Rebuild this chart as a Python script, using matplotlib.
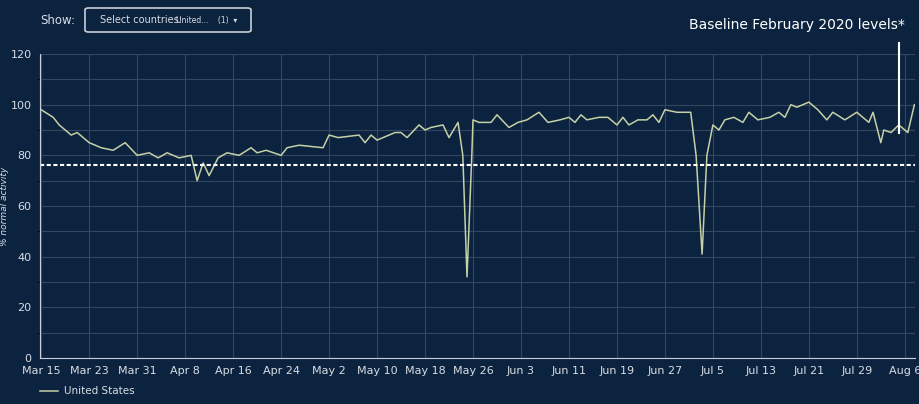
import matplotlib.pyplot as plt
from matplotlib.patches import FancyBboxPatch
import pandas as pd

start = pd.Timestamp("2020-03-15")
day_offsets = [0, 2, 3, 5, 6, 8, 10, 12, 14, 16, 18, 19.5, 21, 23, 25, 26, 27, 28, 29.5,
               31, 33, 35, 36, 37.5, 40, 41, 43, 47, 48, 49.5, 53, 54, 55, 56, 59, 60,
               61, 63, 64, 65, 67, 68, 69.5, 70.3, 71, 71.8, 72, 73, 75, 76, 78, 79.5,
               81, 83, 84.5, 86.5, 88, 89, 90, 91, 93, 94.5, 96, 97, 98, 99.5, 101, 102,
               103, 104, 106, 108.3, 109.2, 110.2, 111, 112, 113, 114, 115.5, 117, 118,
               119.5, 121.5, 123, 124, 125, 126, 128, 129.5, 131, 132, 134, 136, 138,
               138.7, 140, 140.5, 141.7, 143, 144.5, 145.6]
activity = [98, 95, 92, 88, 89, 85, 83, 82, 85, 80, 81, 79, 81, 79, 80, 70, 77, 72, 79,
            81, 80, 83, 81, 82, 80, 83, 84, 83, 88, 87, 88, 85, 88, 86, 89, 89,
            87, 92, 90, 91, 92, 87, 93, 80, 32, 80, 94, 93, 93, 96, 91, 93,
            94, 97, 93, 94, 95, 93, 96, 94, 95, 95, 92, 95, 92, 94, 94, 96,
            93, 98, 97, 97, 80, 41, 80, 92, 90, 94, 95, 93, 97,
            94, 95, 97, 95, 100, 99, 101, 98, 94, 97, 94, 97, 93,
            97, 85, 90, 89, 92, 89, 100]
baseline = 76.3
tick_labels = ["Mar 15", "Mar 23", "Mar 31", "Apr 8", "Apr 16", "Apr 24", "May 2",
               "May 10", "May 18", "May 26", "Jun 3", "Jun 11", "Jun 19", "Jun 27",
               "Jul 5", "Jul 13", "Jul 21", "Jul 29", "Aug 6"]

bg = "#0c233f"
grid_c = "#33475f"
line_c = "#c5d0a6"

dates = [start + pd.Timedelta(days=d) for d in day_offsets]
ticks = [start + pd.Timedelta(days=8 * i) for i in range(len(tick_labels))]

fig = plt.figure(figsize=(9.2, 4.04), dpi=100, facecolor=bg)
ax = fig.add_axes([40 / 920, 1 - 358 / 404, 875 / 920, 304 / 404], facecolor=bg)

ax.plot(dates, activity, color=line_c, lw=1.1)
ax.axhline(baseline, color="white", lw=1.5, ls=(0, (2, 1.2)))

ax.set_ylim(0, 120)
ax.set_yticks(range(0, 121, 20))
ax.set_xlim(start - pd.Timedelta(days=0.2), start + pd.Timedelta(days=145.7))
ax.set_xticks(ticks)
ax.set_xticklabels(tick_labels)
ax.yaxis.set_minor_locator(plt.MultipleLocator(10))
ax.grid(True, which="both", color=grid_c, lw=0.8)
ax.tick_params(colors="#d8dde4", labelsize=8, length=0, pad=6)
for s in ["top", "right"]:
    ax.spines[s].set_visible(False)
ax.spines["left"].set_color("#c8ced6")
ax.spines["bottom"].set_color("#c8ced6")
ax.set_ylabel("% normal activity", color="#d8dde4", fontsize=6.5, style="italic", labelpad=1)

# marker line for baseline annotation
mx = start + pd.Timedelta(days=143)
ax.plot([mx, mx], [89, 124.5], color="white", lw=1.5, clip_on=False)
fig.text(905 / 920, 1 - 25 / 404, "Baseline February 2020 levels*", color="white",
         fontsize=10, ha="right", va="center")

# header controls
fig.text(40 / 920, 1 - 20 / 404, "Show:", color="#d8dde4", fontsize=8.5, va="center")
fig.patches.append(FancyBboxPatch((85 / 920, 1 - 32 / 404), 166 / 920, 24 / 404,
                                  boxstyle="round,pad=0,rounding_size=0.004",
                                  transform=fig.transFigure, fc=bg, ec="#c8ced6", lw=1.2))
fig.text(100 / 920, 1 - 20 / 404, "Select countries:", color="#d8dde4", fontsize=7, va="center")
fig.text(176 / 920, 1 - 20 / 404, "United...    (1)  \u25be", color="#d8dde4", fontsize=5.5,
         va="center")

# legend
fig.lines.append(plt.Line2D([40 / 920, 58 / 920], [1 - 391 / 404] * 2, color=line_c,
                            lw=1.1, transform=fig.transFigure))
fig.text(64 / 920, 1 - 391 / 404, "United States", color="#d8dde4", fontsize=7.5, va="center")

fig.savefig("out.png", dpi=100, facecolor=bg)
